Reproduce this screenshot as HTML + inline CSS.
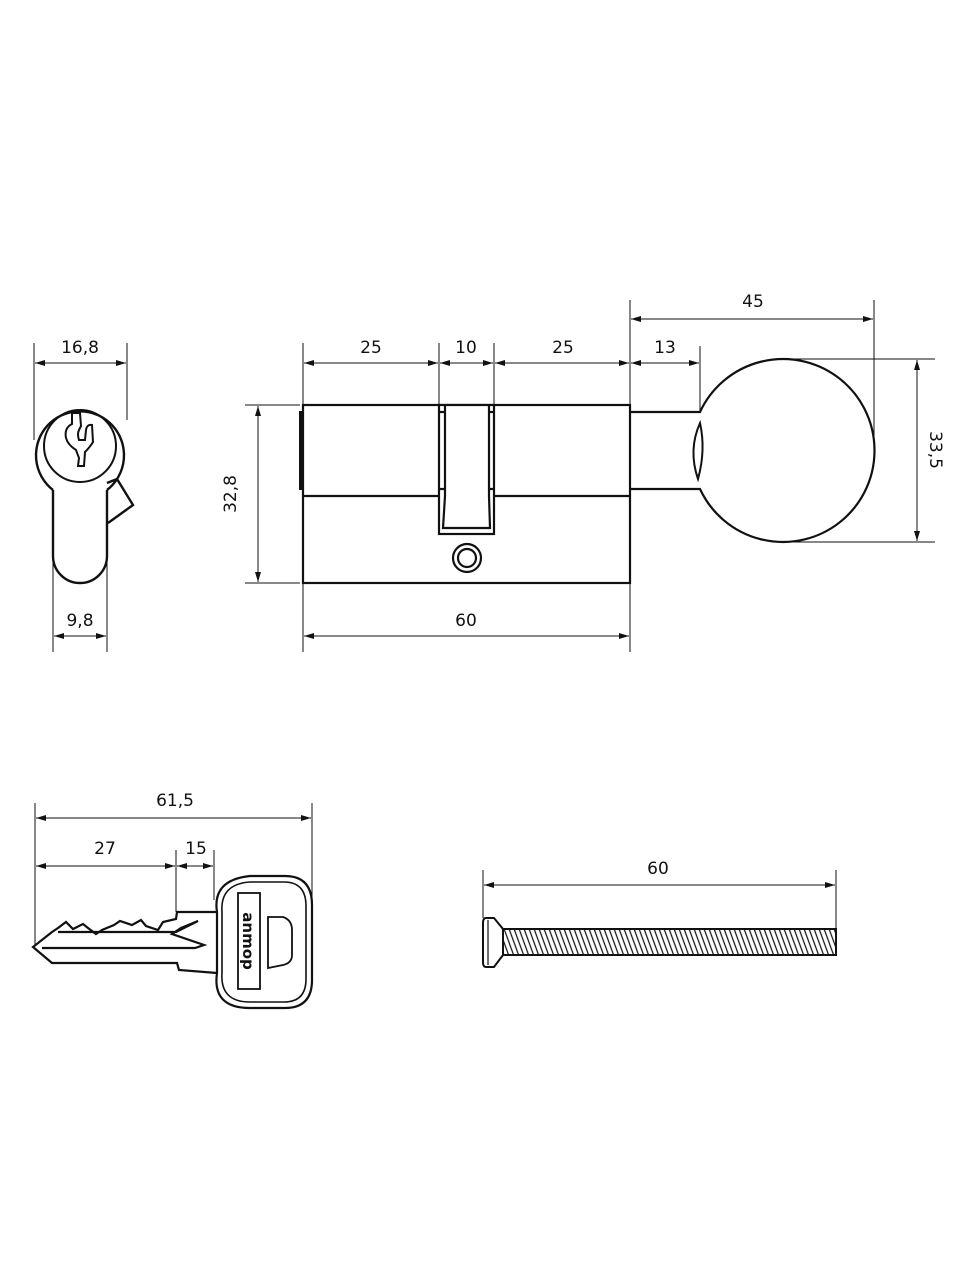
<!DOCTYPE html>
<html><head><meta charset="utf-8"><style>
html,body{margin:0;padding:0;background:#fff;}
svg{display:block;}
text{font-family:"DejaVu Sans","Liberation Sans",sans-serif;font-size:17px;fill:#111;}
</style></head><body>
<svg width="960" height="1280" viewBox="0 0 960 1280" xmlns="http://www.w3.org/2000/svg">
<defs>
<marker id="a" viewBox="0 0 10 6" refX="10" refY="3" markerWidth="10" markerHeight="6" orient="auto-start-reverse" markerUnits="userSpaceOnUse"><path d="M0,0 L10,3 L0,6 Z" fill="#111"/></marker>
<pattern id="th" width="5" height="30" patternUnits="userSpaceOnUse" patternTransform="skewX(20)"><line x1="1" y1="0" x2="1" y2="30" stroke="#111" stroke-width="1.3"/></pattern>
</defs>
<g stroke="#111" fill="none" stroke-width="1">
<!-- side view dims -->
<line x1="34" y1="343" x2="34" y2="440"/><line x1="127" y1="343" x2="127" y2="420"/>
<line x1="35" y1="363" x2="126" y2="363" marker-start="url(#a)" marker-end="url(#a)"/>
<line x1="53" y1="560" x2="53" y2="652"/><line x1="107" y1="560" x2="107" y2="652"/>
<line x1="54" y1="636" x2="106" y2="636" marker-start="url(#a)" marker-end="url(#a)"/>
</g>
<g stroke="#111" fill="none" stroke-width="2.4">
<path d="M53,490 L53,556 A27,27 0 0 0 107,556 L107,490"/>
<path d="M107,483 L117,479 L133,505 L108,523"/>
<path d="M53,490 A44,44 0 1 1 107,490"/>
<circle cx="80" cy="446" r="36" stroke-width="2"/>
<path d="M72,413 L72,424 Q64,428 66,438 Q68,445 76,450 L79,458 L78,466 L84,466 L85,452 Q90,447 93,442 L92,425 Q87,424 86,430 L85,440 L79,440 Q77,434 79,430 L81,426 L80,413 Z" stroke-width="2"/>
</g>
<text x="80" y="353" text-anchor="middle">16,8</text>
<text x="80" y="626" text-anchor="middle">9,8</text>

<!-- main body -->
<g stroke="#111" fill="none" stroke-width="1">
<line x1="303" y1="343" x2="303" y2="405"/><line x1="439" y1="343" x2="439" y2="405"/><line x1="494" y1="343" x2="494" y2="405"/><line x1="630" y1="300" x2="630" y2="405"/>
<line x1="304" y1="363" x2="438" y2="363" marker-start="url(#a)" marker-end="url(#a)"/>
<line x1="440" y1="363" x2="493" y2="363" marker-start="url(#a)" marker-end="url(#a)"/>
<line x1="495" y1="363" x2="629" y2="363" marker-start="url(#a)" marker-end="url(#a)"/>
<line x1="631" y1="363" x2="699" y2="363" marker-start="url(#a)" marker-end="url(#a)"/>
<line x1="700" y1="346" x2="700" y2="412"/>
<line x1="631" y1="319" x2="873" y2="319" marker-start="url(#a)" marker-end="url(#a)"/>
<line x1="874" y1="300" x2="874" y2="450"/>
<line x1="782" y1="359" x2="935" y2="359"/><line x1="782" y1="542" x2="935" y2="542"/>
<line x1="917" y1="360" x2="917" y2="541" marker-start="url(#a)" marker-end="url(#a)"/>
<line x1="245" y1="405" x2="300" y2="405"/><line x1="245" y1="583" x2="300" y2="583"/>
<line x1="258" y1="406" x2="258" y2="582" marker-start="url(#a)" marker-end="url(#a)"/>
<line x1="303" y1="583" x2="303" y2="652"/><line x1="630" y1="583" x2="630" y2="652"/>
<line x1="304" y1="636" x2="629" y2="636" marker-start="url(#a)" marker-end="url(#a)"/>
</g>
<g stroke="#111" fill="none" stroke-width="2.2">
<rect x="303" y="405" width="327" height="178"/>
<line x1="303" y1="496" x2="630" y2="496"/>
<line x1="301" y1="411" x2="301" y2="490" stroke-width="4"/>
<rect x="439" y="405" width="55" height="129" fill="#fff"/>
<path d="M445,405 L445,496 L443,528 L490,528 L489,496 L489,405" />
<line x1="439" y1="412" x2="445" y2="412"/><line x1="489" y1="412" x2="494" y2="412"/>
<line x1="439" y1="489" x2="445" y2="489"/><line x1="489" y1="489" x2="494" y2="489"/>
<circle cx="467" cy="558" r="14"/><circle cx="467" cy="558" r="9"/>
<path d="M630,412 L700,412 A91.5,91.5 0 1 1 700,489 L630,489"/>
<path d="M700,423 Q688,450 698,479 Q706,450 700,423 Z" stroke-width="2"/>
</g>
<text x="371" y="353" text-anchor="middle">25</text>
<text x="466" y="353" text-anchor="middle">10</text>
<text x="563" y="353" text-anchor="middle">25</text>
<text x="665" y="353" text-anchor="middle">13</text>
<text x="753" y="307" text-anchor="middle">45</text>
<text x="466" y="626" text-anchor="middle">60</text>
<text transform="translate(236,494) rotate(-90)" text-anchor="middle">32,8</text>
<text transform="translate(930,450) rotate(90)" text-anchor="middle">33,5</text>

<!-- key -->
<g stroke="#111" fill="none" stroke-width="1">
<line x1="35" y1="803" x2="35" y2="945"/><line x1="312" y1="803" x2="312" y2="900"/>
<line x1="36" y1="818" x2="311" y2="818" marker-start="url(#a)" marker-end="url(#a)"/>
<line x1="36" y1="866" x2="175" y2="866" marker-start="url(#a)" marker-end="url(#a)"/>
<line x1="177" y1="866" x2="213" y2="866" marker-start="url(#a)" marker-end="url(#a)"/>
<line x1="176" y1="850" x2="176" y2="912"/><line x1="214" y1="850" x2="214" y2="900"/>
</g>
<g stroke="#111" fill="none" stroke-width="2.2">
<path d="M217,912 L177,912 L176,919 L163,922 L158,930 L146,926 L141,920 L132,925 L120,921 L114,925 L102,930 L96,934 L88,928 L83,924 L73,929 L66,922 L58,928 L52,932 L33,947 L52,963 L177,963 L179,970 L217,973"/>
<path d="M58,932 L176,932 L198,921 L181,928 L172,934 L204,945 L195,948 L42,948"/>
<path d="M217,912 Q212,880 250,876 L285,876 Q312,876 312,905 L312,980 Q312,1008 285,1008 L250,1008 Q212,1008 217,973 Z"/>
<path d="M222,912 Q220,884 250,882 L284,882 Q306,882 306,906 L306,979 Q306,1002 284,1002 L250,1002 Q220,1002 222,973 Z" stroke-width="1.6"/>
<rect x="238" y="893" width="22" height="96" stroke-width="1.8"/>
<path d="M268,917 L283,917 Q292,920 292,930 L292,955 Q292,963 283,965 L268,968 Z" stroke-width="1.8"/>
</g>
<text transform="translate(243,941) rotate(90)" text-anchor="middle" style="font-size:15px;font-weight:bold">anmop</text>
<text x="175" y="806" text-anchor="middle">61,5</text>
<text x="105" y="854" text-anchor="middle">27</text>
<text x="196" y="854" text-anchor="middle">15</text>

<!-- screw -->
<g stroke="#111" fill="none" stroke-width="1">
<line x1="483" y1="870" x2="483" y2="918"/><line x1="836" y1="870" x2="836" y2="928"/>
<line x1="484" y1="885" x2="835" y2="885" marker-start="url(#a)" marker-end="url(#a)"/>
</g>
<rect x="503" y="929" width="333" height="26" fill="url(#th)" stroke="#111" stroke-width="2"/>
<path d="M486,918 L494,918 L503,929 L503,955 L494,967 L486,967 Q483,967 483,962 L483,923 Q483,918 486,918 Z" fill="#fff" stroke="#111" stroke-width="2"/>
<line x1="488" y1="920" x2="488" y2="965" stroke="#111" stroke-width="1.2"/>
<text x="658" y="874" text-anchor="middle">60</text>
</svg>
</body></html>
